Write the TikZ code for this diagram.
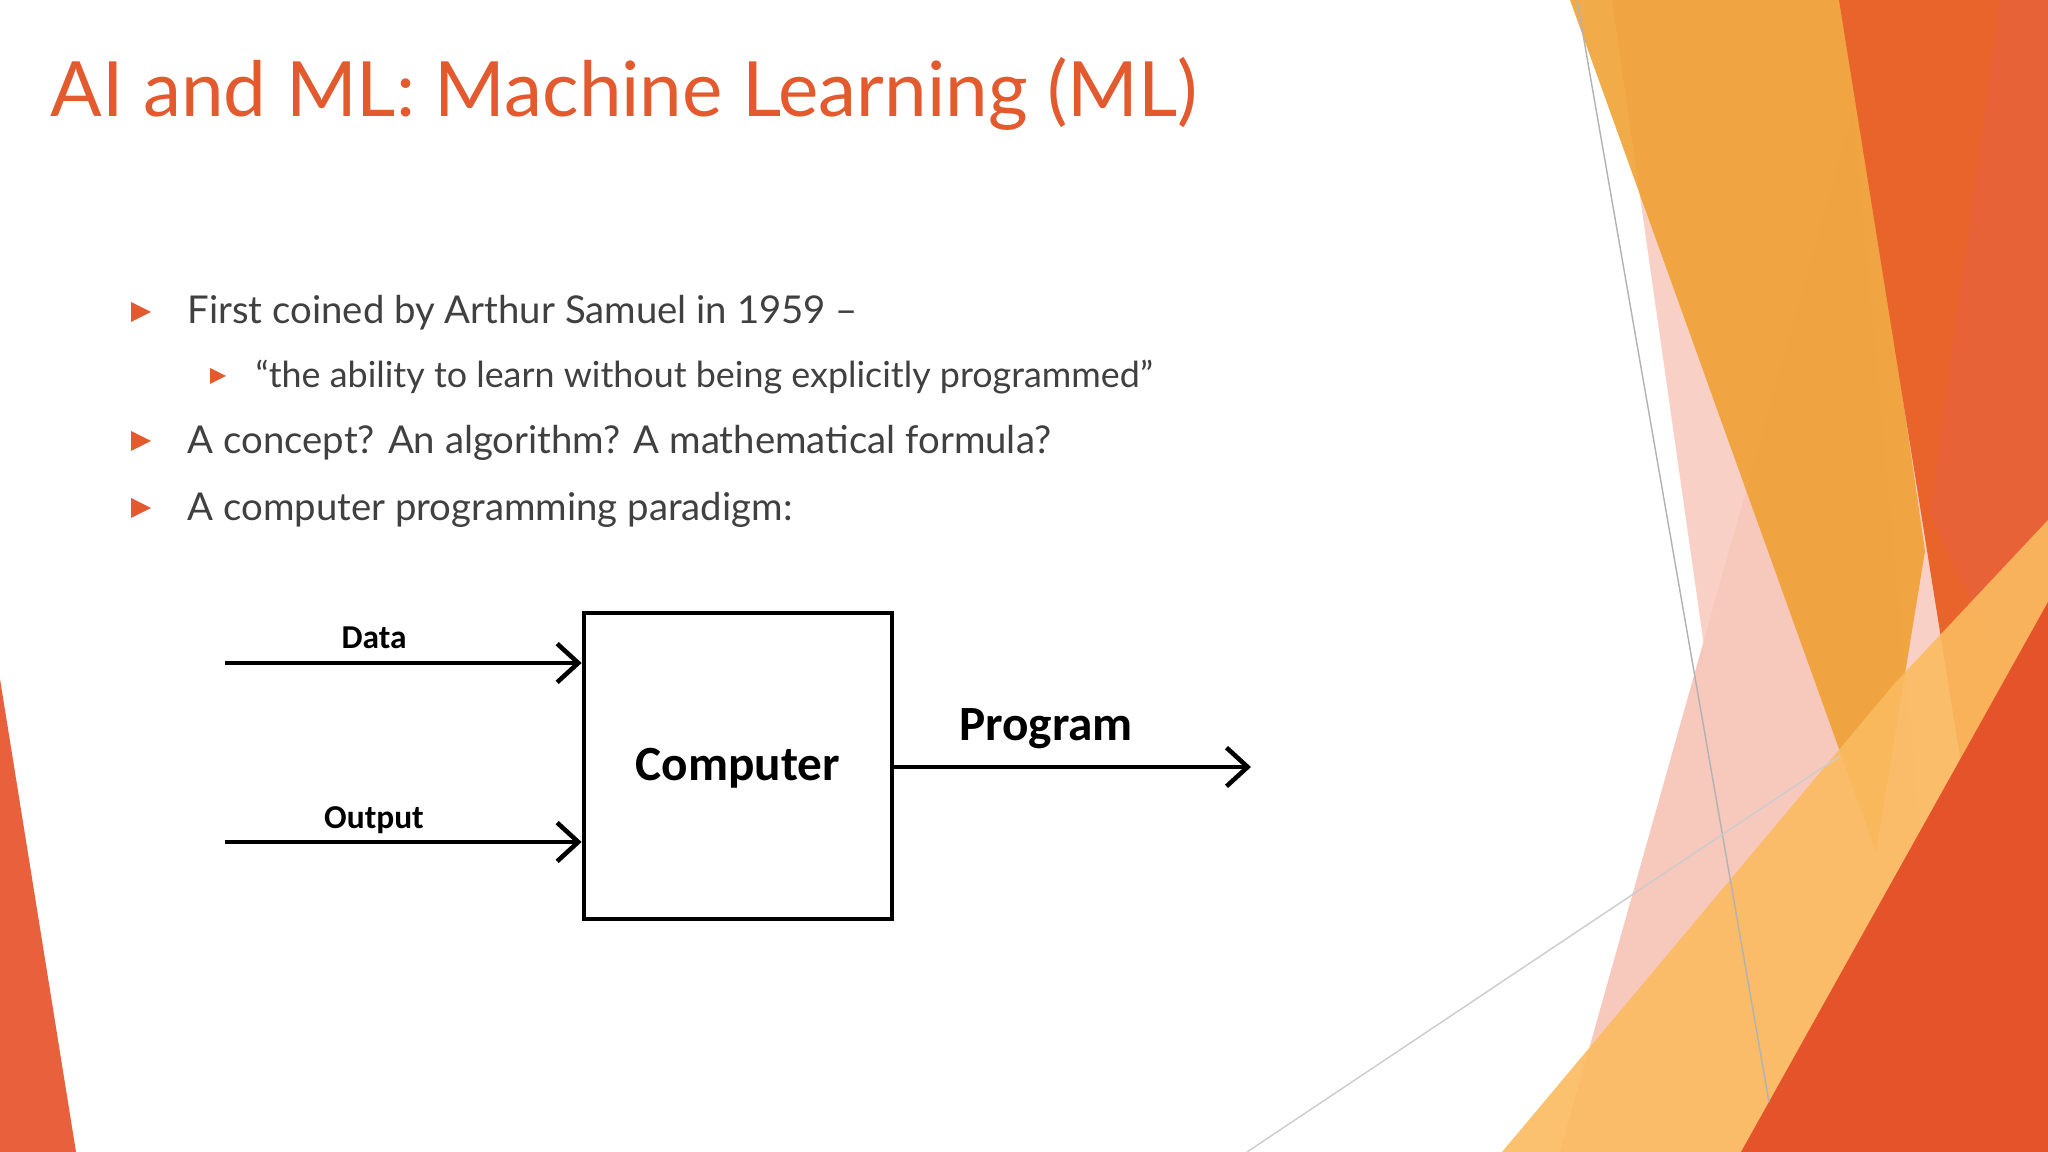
\documentclass[tikz,border=0pt]{standalone}
\usepackage{fontspec}
\setmainfont{Lato}
\newfontfamily\calib{Carlito}
\usetikzlibrary{arrows.meta}
\definecolor{titlec}{HTML}{E35A2E}
\definecolor{txt}{HTML}{404040}
\definecolor{bul}{HTML}{E35A2E}
\definecolor{pinkc}{HTML}{F4B0A0}
\definecolor{yelc}{HTML}{F0A030}
\definecolor{orc}{HTML}{E8642A}
\definecolor{redc}{HTML}{E9623A}
\definecolor{lyc}{HTML}{FBBB60}
\definecolor{drc}{HTML}{E5532A}
\definecolor{leftc}{HTML}{E8603C}
\tikzset{
  bulletmark/.style={fill=bul,draw=none},
  btext/.style={anchor=base west,inner sep=0,text=txt,font=\fontsize{10.9}{12}\selectfont},
  stext/.style={anchor=base west,inner sep=0,text=txt,font=\fontsize{10.2}{11}\selectfont},
  flow/.style={line width=1.3pt,-{Straight Barb[length=6pt,width=11pt,line width=1.3pt]}},
  dlabel/.style={font=\calib\bfseries\fontsize{9.5}{10}\selectfont,inner sep=0,anchor=base},
  blabel/.style={font=\calib\bfseries\fontsize{14}{16}\selectfont,inner sep=0,anchor=base}
}
\newcommand{\bmark}[3]{\fill[bulletmark] (#1-#3,#2-#3) -- (#1+#3,#2) -- (#1-#3,#2+#3) -- cycle;}
\begin{document}
\begin{tikzpicture}[x=0.01cm,y=-0.01cm]
\useasboundingbox (0,0) rectangle (2048,1152);
\fill[white] (0,0) rectangle (2048,1152);
% right decoration
\fill[pinkc!60] (1612,0) -- (1769,1102) -- (1790,1152) -- (2048,1152) -- (2048,0) -- cycle;
\fill[pinkc!70] (1853,110) -- (1560,1152) -- (1950,1152) -- cycle;
\fill[yelc,opacity=0.88] (1570,0) -- (1845,0) -- (1925,551) -- (1876,852) -- cycle;
\fill[orc] (1839,0) -- (2048,0) -- (2048,757) -- (1960,757) -- cycle;
\fill[redc,opacity=0.9] (2000,0) -- (2048,0) -- (2048,757) -- (1930,514) -- cycle;
\fill[lyc,opacity=0.9] (1502,1152) -- (1895,683) -- (2048,520) -- (2048,1152) -- cycle;
\fill[drc] (1741,1152) -- (2048,602) -- (2048,1152) -- cycle;
\draw[gray!60,line width=0.4pt] (1577,0) -- (1769,1102);
\draw[gray!40,line width=0.4pt] (1247,1152) -- (1840,756);
% left decoration
\fill[leftc] (0,679) -- (76,1152) -- (0,1152) -- cycle;
% title
\node[anchor=base west,inner sep=0,text=titlec,font=\fontsize{21.7}{25}\selectfont] (title) at (50,117) {AI and ML: Machine Learning (ML)};
% bullets
\bmark{141}{312}{10}
\node[btext] (b1) at (187,324) {First coined by Arthur Samuel in 1959 –};
\bmark{218}{376}{8}
\node[stext] (b2) at (255,388) {“the ability to learn without being explicitly programmed”};
\bmark{141}{441}{10}
\node[btext] (b3) at (187,454) {A concept? An algorithm? A mathematical formula?};
\bmark{141}{508}{10}
\node[btext] (b4) at (187,521) {A computer programming paradigm:};
% diagram
\node[draw,line width=1.3pt,minimum width=3.08cm,minimum height=3.06cm,inner sep=0] (comp) at (738,766) {};
\node[blabel] (ct) at (738,780) {Computer};
\coordinate (din) at (225,663);
\coordinate (oin) at (225,842);
\coordinate (pout) at (1251,767);
\draw[flow] (din) -- (din -| comp.west);
\draw[flow] (oin) -- (oin -| comp.west);
\draw[flow] (pout -| comp.east) -- (pout);
\node[dlabel] (dl) at (374,648) {Data};
\node[dlabel] (ol) at (374,828) {Output};
\node[blabel] (pl) at (1046,740) {Program};
\end{tikzpicture}
\end{document}
